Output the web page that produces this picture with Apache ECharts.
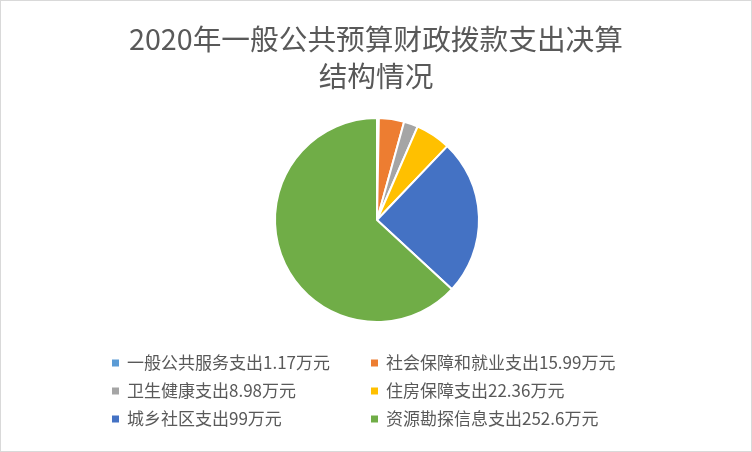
<!DOCTYPE html>
<html><head><meta charset="utf-8">
<script src="https://cdn.jsdelivr.net/npm/echarts@6/dist/echarts.min.js"></script>
<style>
html,body{margin:0;padding:0;background:#fff;}
#c{width:752px;height:452px;box-sizing:border-box;border:1px solid #d9d9d9;}
</style></head>
<body><div id="c"></div>
<script>
var categories = ['一般公共服务支出1.17万元','社会保障和就业支出15.99万元','卫生健康支出8.98万元','住房保障支出22.36万元','城乡社区支出99万元','资源勘探信息支出252.6万元'];
var values = [1.17, 15.99, 8.98, 22.36, 99, 252.6];
var colors = ['#5B9BD5','#ED7D31','#A5A5A5','#FFC000','#4472C4','#70AD47'];
var titleText = '2020年一般公共预算财政拨款支出决算\n结构情况';

var chart = echarts.init(document.getElementById('c'), null, {renderer:'canvas'});
var data = categories.map(function(n,i){return {name:n, value:values[i], itemStyle:{color:colors[i]}};});
var legendCommon = {
  orient:'vertical', icon:'rect', itemWidth:9, itemHeight:9, itemGap:10,
  selectedMode:false,
  textStyle:{color:'#595959', fontSize:17, fontFamily:'Noto Sans CJK SC', padding:[0,0,0,2], lineHeight:18}
};
chart.setOption({
  animation:false,
  title:{text:titleText, left:'center', top:15,
    textStyle:{color:'#595959', fontSize:28.7, fontWeight:'normal', fontFamily:'Noto Sans CJK SC', lineHeight:37}},
  legend:[
    Object.assign({}, legendCommon, {left:104, top:348, data:[categories[0],categories[2],categories[4]]}),
    Object.assign({}, legendCommon, {left:363, top:348, data:[categories[1],categories[3],categories[5]]})
  ],
  series:[{
    type:'pie', center:[376,219], radius:[0,102], startAngle:90, clockwise:true,
    label:{show:false}, labelLine:{show:false},
    itemStyle:{borderColor:'#fff', borderWidth:2},
    emphasis:{disabled:true},
    data:data
  }]
});
</script></body></html>
